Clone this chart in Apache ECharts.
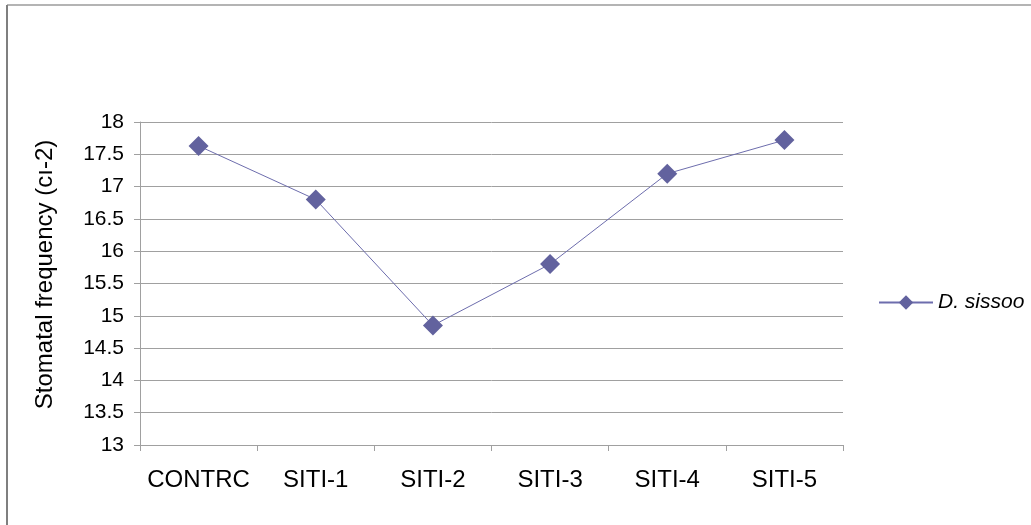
<!DOCTYPE html>
<html>
<head>
<meta charset="utf-8">
<script src="https://cdn.jsdelivr.net/npm/echarts@6/dist/echarts.min.js"></script>
<style>html,body{margin:0;padding:0;background:#fff}#c{width:1031px;height:525px}</style>
</head>
<body>
<div id="c"></div>
<script>
const categories = ['CONTRC', 'SITI-1', 'SITI-2', 'SITI-3', 'SITI-4', 'SITI-5'];
const seriesName = 'D. sissoo';
const values = [17.63, 16.8, 14.85, 15.8, 17.2, 17.72];
const yTicks = ['13', '13.5', '14', '14.5', '15', '15.5', '16', '16.5', '17', '17.5', '18'];
const yAxisTitle = 'Stomatal frequency (cı-2)';

const chart = echarts.init(document.getElementById('c'), null, {renderer: 'canvas'});
const font = 'Liberation Sans, Arial, sans-serif';
chart.setOption({
  animation: false,
  backgroundColor: '#ffffff',
  textStyle: {fontFamily: font},
  graphic: [
    {type: 'line', shape: {x1: 7, y1: 5, x2: 1031, y2: 5}, style: {stroke: '#b4b4b4', lineWidth: 2}},
    {type: 'line', shape: {x1: 7, y1: 5, x2: 7, y2: 525}, style: {stroke: '#7f7f7f', lineWidth: 2}}
  ],
  grid: {left: 140, right: 188, top: 122, bottom: 80},
  legend: {
    left: 873, top: 287,
    itemWidth: 54, itemHeight: 18, itemGap: 4,
    data: [{name: seriesName}],
    textStyle: {fontSize: 21, fontStyle: 'italic', color: '#000', fontFamily: font}
  },
  xAxis: {
    type: 'category',
    data: categories,
    boundaryGap: true,
    axisLine: {lineStyle: {color: '#a0a0a0', width: 1}},
    axisTick: {show: true, length: 6, interval: 0, alignWithLabel: false, lineStyle: {color: '#a0a0a0'}},
    axisLabel: {fontSize: 24, color: '#000', margin: 23, interval: 0, fontFamily: font}
  },
  yAxis: {
    type: 'value',
    min: 13, max: 18, interval: 0.5,
    name: yAxisTitle,
    nameLocation: 'middle',
    nameGap: 83,
    nameRotate: 90,
    nameTextStyle: {fontSize: 24, color: '#000', fontFamily: font, padding: [0, 0, 0, 18]},
    axisLine: {show: true, lineStyle: {color: '#a0a0a0'}},
    axisTick: {show: true, length: 6, lineStyle: {color: '#a0a0a0'}},
    axisLabel: {fontSize: 21, color: '#000', margin: 16, fontFamily: font,
      formatter: function (v) { return yTicks[Math.round((v - 13) / 0.5)]; }},
    splitLine: {show: true, lineStyle: {color: '#a0a0a0', width: 1}}
  },
  series: [{
    name: seriesName,
    type: 'line',
    data: values,
    symbol: 'diamond',
    symbolSize: 20,
    itemStyle: {color: '#62629e'},
    lineStyle: {color: '#6d6dad', width: 1}
  }]
});
</script>
</body>
</html>
